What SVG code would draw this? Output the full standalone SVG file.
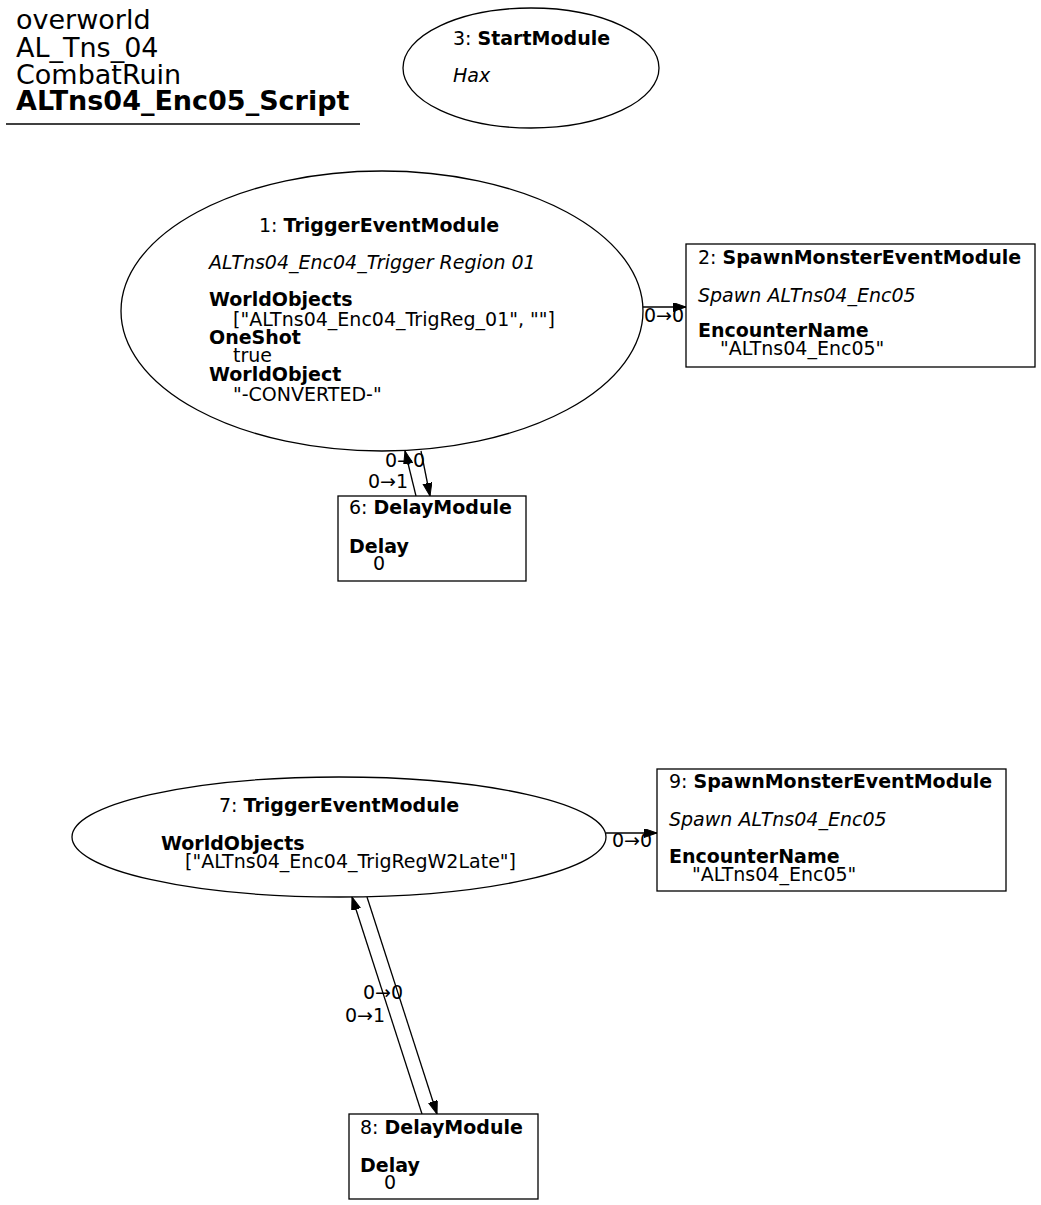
<svg xmlns="http://www.w3.org/2000/svg" width="1041" height="1205" viewBox="0 0 1041 1205">
<style>
text{font-family:"DejaVu Sans","Liberation Sans",sans-serif;font-size:19px;fill:#000}
.t{font-size:27px}
.b{font-weight:bold}
.i{font-style:italic}
.n{fill:#fff;stroke:#000;stroke-width:1.3}
.e{fill:none;stroke:#000;stroke-width:1.3}
</style>
<defs>
<marker id="ah" markerWidth="14" markerHeight="10" refX="13" refY="4.5" orient="auto" markerUnits="userSpaceOnUse">
<path d="M0,0 L13,4.5 L0,9 Z" fill="#000" stroke="#000" stroke-width="1"/>
</marker>
</defs>
<rect width="1041" height="1205" fill="#fff"/>
<g id="title">
<text class="t" x="16" y="29">overworld</text>
<text class="t" x="16" y="57">AL_Tns_04</text>
<text class="t" x="16" y="84">CombatRuin</text>
<text class="t b" x="16" y="110">ALTns04_Enc05_Script</text>
<line x1="6" y1="124" x2="360" y2="124" stroke="#000" stroke-width="1.3"/>
</g>
<g id="connectors">
<line class="e" x1="643" y1="307" x2="686" y2="307" marker-end="url(#ah)"/>
<text x="644" y="322">0→0</text>
<line class="e" x1="421" y1="451" x2="430" y2="496" marker-end="url(#ah)"/>
<text x="385" y="467">0→0</text>
<line class="e" x1="416" y1="496" x2="405" y2="451" marker-end="url(#ah)"/>
<text x="368" y="488">0→1</text>
<line class="e" x1="606" y1="833" x2="657" y2="833" marker-end="url(#ah)"/>
<text x="612" y="847">0→0</text>
<line class="e" x1="367" y1="897" x2="437" y2="1114" marker-end="url(#ah)"/>
<text x="363" y="999">0→0</text>
<line class="e" x1="422" y1="1114" x2="352" y2="897" marker-end="url(#ah)"/>
<text x="345" y="1022">0→1</text>
</g>
<g id="node3">
<ellipse class="n" cx="531" cy="68" rx="128" ry="60"/>
<text x="453" y="45">3: <tspan class="b">StartModule</tspan></text>
<text class="i" x="453" y="82">Hax</text>
</g>
<g id="node1">
<ellipse class="n" cx="382" cy="311" rx="261" ry="140"/>
<text x="259" y="232">1: <tspan class="b">TriggerEventModule</tspan></text>
<text class="i" x="209" y="269">ALTns04_Enc04_Trigger Region 01</text>
<text class="b" x="209" y="306">WorldObjects</text>
<text x="233" y="326">["ALTns04_Enc04_TrigReg_01", ""]</text>
<text class="b" x="209" y="344">OneShot</text>
<text x="233" y="362">true</text>
<text class="b" x="209" y="381">WorldObject</text>
<text x="233" y="401">"-CONVERTED-"</text>
</g>
<g id="node2">
<rect class="n" x="686" y="244" width="349" height="123"/>
<text x="698" y="264">2: <tspan class="b">SpawnMonsterEventModule</tspan></text>
<text class="i" x="698" y="302">Spawn ALTns04_Enc05</text>
<text class="b" x="698" y="337">EncounterName</text>
<text x="720" y="355">"ALTns04_Enc05"</text>
</g>
<g id="node6">
<rect class="n" x="338" y="496" width="188" height="85"/>
<text x="349" y="514">6: <tspan class="b">DelayModule</tspan></text>
<text class="b" x="349" y="553">Delay</text>
<text x="373" y="570">0</text>
</g>
<g id="node7">
<ellipse class="n" cx="339" cy="837" rx="267" ry="60"/>
<text x="219" y="812">7: <tspan class="b">TriggerEventModule</tspan></text>
<text class="b" x="161" y="850">WorldObjects</text>
<text x="185" y="868">["ALTns04_Enc04_TrigRegW2Late"]</text>
</g>
<g id="node9">
<rect class="n" x="657" y="769" width="349" height="122"/>
<text x="669" y="788">9: <tspan class="b">SpawnMonsterEventModule</tspan></text>
<text class="i" x="669" y="826">Spawn ALTns04_Enc05</text>
<text class="b" x="669" y="863">EncounterName</text>
<text x="692" y="881">"ALTns04_Enc05"</text>
</g>
<g id="node8">
<rect class="n" x="349" y="1114" width="189" height="85"/>
<text x="360" y="1134">8: <tspan class="b">DelayModule</tspan></text>
<text class="b" x="360" y="1172">Delay</text>
<text x="384" y="1189">0</text>
</g>
</svg>
